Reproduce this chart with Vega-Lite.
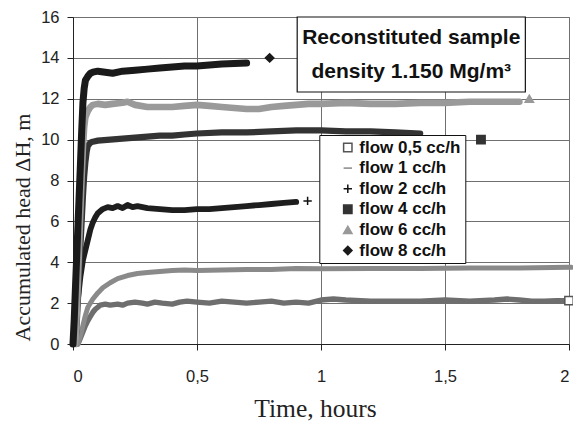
{
  "$schema": "https://vega.github.io/schema/vega-lite/v6.json",
  "width": 496,
  "height": 327,
  "autosize": {"type": "none"},
  "padding": {"left": 73, "top": 17, "right": 4, "bottom": 80},
  "background": "white",
  "config": {
    "view": {"stroke": "#707070", "strokeWidth": 1},
    "axis": {
      "labelFont": "Liberation Sans", "labelFontSize": 16.5, "labelColor": "#222",
      "titleFont": "Liberation Serif", "titleFontWeight": "normal", "titleColor": "#222",
      "gridColor": "#707070", "gridWidth": 1, "gridOpacity": 1,
      "domainColor": "#222", "tickColor": "#222", "tickSize": 6
    },
    "legend": {
      "title": null, "orient": "none", "legendX": 246.3, "legendY": 118, "fillColor": "white", "strokeColor": "#111",
      "padding": 4, "symbolOffset": 16, "labelFont": "Liberation Sans", "labelFontWeight": "bold", "labelFontSize": 17, "labelColor": "#111",
      "rowPadding": 2.6, "symbolSize": 70, "symbolStrokeWidth": 1.5, "labelOffset": 3,
      "labelExpr": "datum.label + '\u00a0\u00a0'"
    }
  },
  "datasets": {
    "lines": [
      {"s":"flow 0,5 cc/h","t":0.02,"h":0},{"s":"flow 0,5 cc/h","t":0.03,"h":0.3},{"s":"flow 0,5 cc/h","t":0.04,"h":0.6},{"s":"flow 0,5 cc/h","t":0.05,"h":0.9},{"s":"flow 0,5 cc/h","t":0.06,"h":1.15},{"s":"flow 0,5 cc/h","t":0.07,"h":1.35},{"s":"flow 0,5 cc/h","t":0.08,"h":1.55},{"s":"flow 0,5 cc/h","t":0.09,"h":1.7},{"s":"flow 0,5 cc/h","t":0.1,"h":1.8},{"s":"flow 0,5 cc/h","t":0.11,"h":1.9},{"s":"flow 0,5 cc/h","t":0.13,"h":1.95},{"s":"flow 0,5 cc/h","t":0.15,"h":1.9},{"s":"flow 0,5 cc/h","t":0.18,"h":1.95},{"s":"flow 0,5 cc/h","t":0.2,"h":1.9},{"s":"flow 0,5 cc/h","t":0.22,"h":2.0},{"s":"flow 0,5 cc/h","t":0.25,"h":2.05},{"s":"flow 0,5 cc/h","t":0.28,"h":2.0},{"s":"flow 0,5 cc/h","t":0.3,"h":1.95},{"s":"flow 0,5 cc/h","t":0.33,"h":2.05},{"s":"flow 0,5 cc/h","t":0.36,"h":2.0},{"s":"flow 0,5 cc/h","t":0.4,"h":1.95},{"s":"flow 0,5 cc/h","t":0.43,"h":2.05},{"s":"flow 0,5 cc/h","t":0.46,"h":2.1},{"s":"flow 0,5 cc/h","t":0.5,"h":2.05},{"s":"flow 0,5 cc/h","t":0.55,"h":2.0},{"s":"flow 0,5 cc/h","t":0.6,"h":2.1},{"s":"flow 0,5 cc/h","t":0.65,"h":2.05},{"s":"flow 0,5 cc/h","t":0.7,"h":2.0},{"s":"flow 0,5 cc/h","t":0.75,"h":2.05},{"s":"flow 0,5 cc/h","t":0.8,"h":2.1},{"s":"flow 0,5 cc/h","t":0.85,"h":2.0},{"s":"flow 0,5 cc/h","t":0.9,"h":2.05},{"s":"flow 0,5 cc/h","t":0.95,"h":2.0},{"s":"flow 0,5 cc/h","t":1.0,"h":2.15},{"s":"flow 0,5 cc/h","t":1.05,"h":2.2},{"s":"flow 0,5 cc/h","t":1.1,"h":2.15},{"s":"flow 0,5 cc/h","t":1.2,"h":2.1},{"s":"flow 0,5 cc/h","t":1.3,"h":2.1},{"s":"flow 0,5 cc/h","t":1.4,"h":2.1},{"s":"flow 0,5 cc/h","t":1.5,"h":2.15},{"s":"flow 0,5 cc/h","t":1.6,"h":2.1},{"s":"flow 0,5 cc/h","t":1.7,"h":2.15},{"s":"flow 0,5 cc/h","t":1.75,"h":2.2},{"s":"flow 0,5 cc/h","t":1.8,"h":2.15},{"s":"flow 0,5 cc/h","t":1.85,"h":2.1},{"s":"flow 0,5 cc/h","t":1.9,"h":2.1},{"s":"flow 0,5 cc/h","t":1.95,"h":2.12},{"s":"flow 0,5 cc/h","t":1.99,"h":2.12},
      {"s":"flow 1 cc/h","t":0.02,"h":0},{"s":"flow 1 cc/h","t":0.03,"h":0.4},{"s":"flow 1 cc/h","t":0.04,"h":0.9},{"s":"flow 1 cc/h","t":0.05,"h":1.4},{"s":"flow 1 cc/h","t":0.06,"h":1.8},{"s":"flow 1 cc/h","t":0.08,"h":2.2},{"s":"flow 1 cc/h","t":0.1,"h":2.5},{"s":"flow 1 cc/h","t":0.12,"h":2.75},{"s":"flow 1 cc/h","t":0.15,"h":3.0},{"s":"flow 1 cc/h","t":0.18,"h":3.2},{"s":"flow 1 cc/h","t":0.22,"h":3.35},{"s":"flow 1 cc/h","t":0.26,"h":3.45},{"s":"flow 1 cc/h","t":0.3,"h":3.5},{"s":"flow 1 cc/h","t":0.35,"h":3.55},{"s":"flow 1 cc/h","t":0.4,"h":3.6},{"s":"flow 1 cc/h","t":0.45,"h":3.62},{"s":"flow 1 cc/h","t":0.5,"h":3.6},{"s":"flow 1 cc/h","t":0.6,"h":3.62},{"s":"flow 1 cc/h","t":0.7,"h":3.65},{"s":"flow 1 cc/h","t":0.8,"h":3.65},{"s":"flow 1 cc/h","t":0.9,"h":3.7},{"s":"flow 1 cc/h","t":1.0,"h":3.68},{"s":"flow 1 cc/h","t":1.2,"h":3.7},{"s":"flow 1 cc/h","t":1.4,"h":3.7},{"s":"flow 1 cc/h","t":1.6,"h":3.72},{"s":"flow 1 cc/h","t":1.8,"h":3.72},{"s":"flow 1 cc/h","t":2.0,"h":3.75},{"s":"flow 1 cc/h","t":2.01,"h":3.75},
      {"s":"flow 2 cc/h","t":0,"h":0},{"s":"flow 2 cc/h","t":0.01,"h":1.0},{"s":"flow 2 cc/h","t":0.02,"h":2.2},{"s":"flow 2 cc/h","t":0.03,"h":3.3},{"s":"flow 2 cc/h","t":0.04,"h":4.1},{"s":"flow 2 cc/h","t":0.05,"h":4.6},{"s":"flow 2 cc/h","t":0.06,"h":5.1},{"s":"flow 2 cc/h","t":0.07,"h":5.6},{"s":"flow 2 cc/h","t":0.08,"h":5.95},{"s":"flow 2 cc/h","t":0.09,"h":6.2},{"s":"flow 2 cc/h","t":0.1,"h":6.4},{"s":"flow 2 cc/h","t":0.12,"h":6.6},{"s":"flow 2 cc/h","t":0.14,"h":6.7},{"s":"flow 2 cc/h","t":0.16,"h":6.65},{"s":"flow 2 cc/h","t":0.18,"h":6.75},{"s":"flow 2 cc/h","t":0.2,"h":6.65},{"s":"flow 2 cc/h","t":0.22,"h":6.8},{"s":"flow 2 cc/h","t":0.24,"h":6.7},{"s":"flow 2 cc/h","t":0.26,"h":6.75},{"s":"flow 2 cc/h","t":0.3,"h":6.65},{"s":"flow 2 cc/h","t":0.35,"h":6.6},{"s":"flow 2 cc/h","t":0.4,"h":6.55},{"s":"flow 2 cc/h","t":0.45,"h":6.55},{"s":"flow 2 cc/h","t":0.5,"h":6.6},{"s":"flow 2 cc/h","t":0.55,"h":6.6},{"s":"flow 2 cc/h","t":0.6,"h":6.65},{"s":"flow 2 cc/h","t":0.65,"h":6.7},{"s":"flow 2 cc/h","t":0.7,"h":6.75},{"s":"flow 2 cc/h","t":0.75,"h":6.8},{"s":"flow 2 cc/h","t":0.8,"h":6.85},{"s":"flow 2 cc/h","t":0.85,"h":6.9},{"s":"flow 2 cc/h","t":0.9,"h":6.95},
      {"s":"flow 4 cc/h","t":0.01,"h":0},{"s":"flow 4 cc/h","t":0.015,"h":1.0},{"s":"flow 4 cc/h","t":0.02,"h":2.2},{"s":"flow 4 cc/h","t":0.025,"h":3.5},{"s":"flow 4 cc/h","t":0.03,"h":4.8},{"s":"flow 4 cc/h","t":0.035,"h":6.0},{"s":"flow 4 cc/h","t":0.04,"h":7.2},{"s":"flow 4 cc/h","t":0.045,"h":8.2},{"s":"flow 4 cc/h","t":0.05,"h":8.9},{"s":"flow 4 cc/h","t":0.055,"h":9.4},{"s":"flow 4 cc/h","t":0.06,"h":9.7},{"s":"flow 4 cc/h","t":0.07,"h":9.85},{"s":"flow 4 cc/h","t":0.08,"h":9.9},{"s":"flow 4 cc/h","t":0.1,"h":9.95},{"s":"flow 4 cc/h","t":0.15,"h":10.0},{"s":"flow 4 cc/h","t":0.2,"h":10.05},{"s":"flow 4 cc/h","t":0.25,"h":10.1},{"s":"flow 4 cc/h","t":0.3,"h":10.15},{"s":"flow 4 cc/h","t":0.35,"h":10.2},{"s":"flow 4 cc/h","t":0.4,"h":10.2},{"s":"flow 4 cc/h","t":0.45,"h":10.25},{"s":"flow 4 cc/h","t":0.5,"h":10.3},{"s":"flow 4 cc/h","t":0.6,"h":10.35},{"s":"flow 4 cc/h","t":0.7,"h":10.35},{"s":"flow 4 cc/h","t":0.8,"h":10.4},{"s":"flow 4 cc/h","t":0.9,"h":10.45},{"s":"flow 4 cc/h","t":1.0,"h":10.45},{"s":"flow 4 cc/h","t":1.1,"h":10.4},{"s":"flow 4 cc/h","t":1.2,"h":10.4},{"s":"flow 4 cc/h","t":1.3,"h":10.35},{"s":"flow 4 cc/h","t":1.4,"h":10.3},
      {"s":"flow 6 cc/h","t":0.01,"h":0},{"s":"flow 6 cc/h","t":0.015,"h":1.5},{"s":"flow 6 cc/h","t":0.02,"h":3.2},{"s":"flow 6 cc/h","t":0.025,"h":4.9},{"s":"flow 6 cc/h","t":0.03,"h":6.6},{"s":"flow 6 cc/h","t":0.035,"h":8.2},{"s":"flow 6 cc/h","t":0.04,"h":9.6},{"s":"flow 6 cc/h","t":0.045,"h":10.6},{"s":"flow 6 cc/h","t":0.05,"h":11.1},{"s":"flow 6 cc/h","t":0.06,"h":11.4},{"s":"flow 6 cc/h","t":0.07,"h":11.6},{"s":"flow 6 cc/h","t":0.08,"h":11.7},{"s":"flow 6 cc/h","t":0.1,"h":11.75},{"s":"flow 6 cc/h","t":0.13,"h":11.7},{"s":"flow 6 cc/h","t":0.16,"h":11.75},{"s":"flow 6 cc/h","t":0.2,"h":11.8},{"s":"flow 6 cc/h","t":0.22,"h":11.85},{"s":"flow 6 cc/h","t":0.25,"h":11.7},{"s":"flow 6 cc/h","t":0.3,"h":11.6},{"s":"flow 6 cc/h","t":0.35,"h":11.6},{"s":"flow 6 cc/h","t":0.4,"h":11.6},{"s":"flow 6 cc/h","t":0.45,"h":11.65},{"s":"flow 6 cc/h","t":0.5,"h":11.7},{"s":"flow 6 cc/h","t":0.55,"h":11.65},{"s":"flow 6 cc/h","t":0.6,"h":11.6},{"s":"flow 6 cc/h","t":0.65,"h":11.55},{"s":"flow 6 cc/h","t":0.7,"h":11.5},{"s":"flow 6 cc/h","t":0.75,"h":11.5},{"s":"flow 6 cc/h","t":0.8,"h":11.6},{"s":"flow 6 cc/h","t":0.85,"h":11.65},{"s":"flow 6 cc/h","t":0.9,"h":11.7},{"s":"flow 6 cc/h","t":0.95,"h":11.75},{"s":"flow 6 cc/h","t":1.0,"h":11.75},{"s":"flow 6 cc/h","t":1.1,"h":11.8},{"s":"flow 6 cc/h","t":1.2,"h":11.75},{"s":"flow 6 cc/h","t":1.3,"h":11.75},{"s":"flow 6 cc/h","t":1.4,"h":11.8},{"s":"flow 6 cc/h","t":1.5,"h":11.8},{"s":"flow 6 cc/h","t":1.6,"h":11.85},{"s":"flow 6 cc/h","t":1.7,"h":11.85},{"s":"flow 6 cc/h","t":1.8,"h":11.85},
      {"s":"flow 8 cc/h","t":0,"h":0},{"s":"flow 8 cc/h","t":0.005,"h":1.2},{"s":"flow 8 cc/h","t":0.01,"h":2.8},{"s":"flow 8 cc/h","t":0.015,"h":4.3},{"s":"flow 8 cc/h","t":0.02,"h":5.8},{"s":"flow 8 cc/h","t":0.025,"h":7.3},{"s":"flow 8 cc/h","t":0.03,"h":8.8},{"s":"flow 8 cc/h","t":0.035,"h":10.4},{"s":"flow 8 cc/h","t":0.04,"h":11.8},{"s":"flow 8 cc/h","t":0.045,"h":12.5},{"s":"flow 8 cc/h","t":0.05,"h":12.9},{"s":"flow 8 cc/h","t":0.06,"h":13.1},{"s":"flow 8 cc/h","t":0.07,"h":13.25},{"s":"flow 8 cc/h","t":0.08,"h":13.3},{"s":"flow 8 cc/h","t":0.1,"h":13.35},{"s":"flow 8 cc/h","t":0.13,"h":13.3},{"s":"flow 8 cc/h","t":0.16,"h":13.25},{"s":"flow 8 cc/h","t":0.2,"h":13.35},{"s":"flow 8 cc/h","t":0.25,"h":13.4},{"s":"flow 8 cc/h","t":0.3,"h":13.45},{"s":"flow 8 cc/h","t":0.35,"h":13.5},{"s":"flow 8 cc/h","t":0.4,"h":13.55},{"s":"flow 8 cc/h","t":0.45,"h":13.6},{"s":"flow 8 cc/h","t":0.5,"h":13.6},{"s":"flow 8 cc/h","t":0.55,"h":13.65},{"s":"flow 8 cc/h","t":0.6,"h":13.7},{"s":"flow 8 cc/h","t":0.65,"h":13.72},{"s":"flow 8 cc/h","t":0.7,"h":13.75}
    ],
    "ends": [
      {"s":"flow 0,5 cc/h","t":2.0,"h":2.12},
      {"s":"flow 2 cc/h","t":0.946,"h":7.0},
      {"s":"flow 4 cc/h","t":1.645,"h":10.0},
      {"s":"flow 6 cc/h","t":1.84,"h":12.0},
      {"s":"flow 8 cc/h","t":0.793,"h":14.0}
    ]
  },
  "layer": [
    {
      "data": {"name": "lines"},
      "mark": {"type": "line", "strokeJoin": "round", "strokeCap": "round"},
      "encoding": {
        "x": {"field": "t", "type": "quantitative", "scale": {"domain": [0, 2], "nice": false},
          "axis": {"values": [0, 0.5, 1, 1.5, 2], "labelExpr": "replace(format(datum.value, '~g'), '.', ',')", "labelPadding": 18,
            "title": "Time, hours", "titleFontSize": 25.5, "titleX": 242, "titleY": 72.7, "titleBaseline": "alphabetic", "titleAlign": "center"}},
        "y": {"field": "h", "type": "quantitative", "scale": {"domain": [0, 16], "nice": false},
          "axis": {"values": [0, 2, 4, 6, 8, 10, 12, 14, 16], "labelPadding": 8,
            "title": "Accumulated head ΔH, m", "titleFontSize": 22, "titleAngle": -90, "titleX": -44, "titleY": 210, "titleBaseline": "alphabetic", "titleAlign": "center"}},
        "color": {"field": "s", "type": "nominal", "legend": null,
          "scale": {"domain": ["flow 8 cc/h", "flow 6 cc/h", "flow 4 cc/h", "flow 2 cc/h", "flow 1 cc/h", "flow 0,5 cc/h"],
            "range": ["#1a1a1a", "#9a9a9a", "#333333", "#1e1e1e", "#8a8a8a", "#6e6e6e"]}},
        "strokeWidth": {"field": "s", "type": "ordinal", "legend": null,
          "scale": {"domain": ["flow 1 cc/h", "flow 0,5 cc/h", "flow 2 cc/h", "flow 4 cc/h", "flow 6 cc/h", "flow 8 cc/h"],
            "range": [5, 7, 7, 8.5, 8, 9]}}
      }
    },
    {
      "data": {"name": "ends"},
      "mark": {"type": "point", "filled": true, "size": 70, "strokeWidth": 1.5, "opacity": 1},
      "encoding": {
        "x": {"field": "t", "type": "quantitative"},
        "y": {"field": "h", "type": "quantitative"},
        "shape": {"field": "s", "type": "nominal",
          "scale": {"domain": ["flow 0,5 cc/h", "flow 1 cc/h", "flow 2 cc/h", "flow 4 cc/h", "flow 6 cc/h", "flow 8 cc/h"],
            "range": ["square", "stroke", "M-1,0H1M0,-1V1", "square", "triangle-up", "diamond"]}},
        "fill": {"field": "s", "type": "nominal",
          "scale": {"domain": ["flow 0,5 cc/h", "flow 1 cc/h", "flow 2 cc/h", "flow 4 cc/h", "flow 6 cc/h", "flow 8 cc/h"],
            "range": ["#ffffff", "#888888", "#111111", "#333333", "#999999", "#1a1a1a"]}},
        "stroke": {"field": "s", "type": "nominal",
          "scale": {"domain": ["flow 0,5 cc/h", "flow 1 cc/h", "flow 2 cc/h", "flow 4 cc/h", "flow 6 cc/h", "flow 8 cc/h"],
            "range": ["#555555", "#888888", "#111111", "#333333", "#999999", "#1a1a1a"]}}
      }
    },
    {
      "data": {"values": [{}]},
      "mark": {"type": "rect", "fill": "white", "stroke": "#111", "strokeWidth": 1.2},
      "encoding": {
        "x": {"datum": 0.904, "type": "quantitative"},
        "x2": {"datum": 1.824},
        "y": {"datum": 12.33, "type": "quantitative"},
        "y2": {"datum": 16}
      }
    },
    {
      "data": {"values": [{}]},
      "mark": {"type": "text", "font": "Liberation Sans", "fontWeight": "bold", "fontSize": 21, "color": "#111", "baseline": "middle", "align": "center"},
      "encoding": {
        "x": {"datum": 1.364, "type": "quantitative"},
        "y": {"datum": 14.97, "type": "quantitative"},
        "text": {"value": "Reconstituted sample"}
      }
    },
    {
      "data": {"values": [{}]},
      "mark": {"type": "text", "font": "Liberation Sans", "fontWeight": "bold", "fontSize": 21, "color": "#111", "baseline": "middle", "align": "center"},
      "encoding": {
        "x": {"datum": 1.364, "type": "quantitative"},
        "y": {"datum": 13.31, "type": "quantitative"},
        "text": {"value": "density 1.150 Mg/m³"}
      }
    }
  ]
}
